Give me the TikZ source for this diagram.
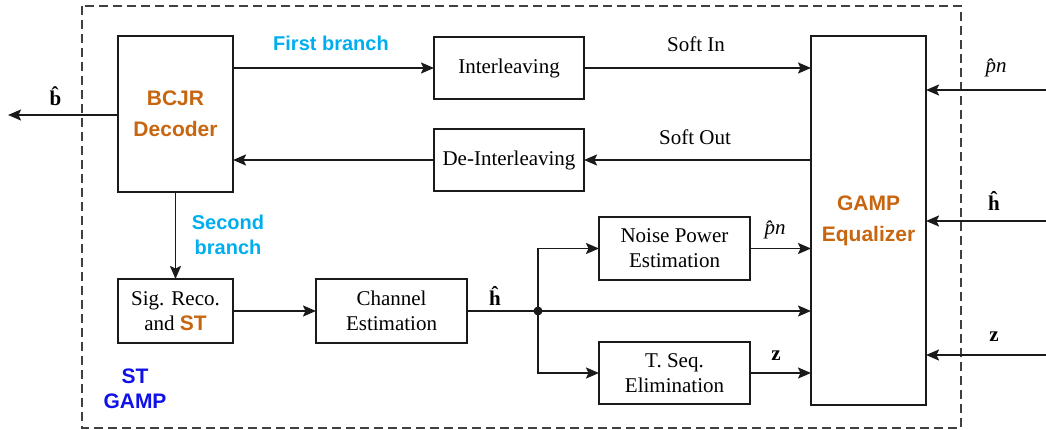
\documentclass[tikz,border=0pt]{standalone}
\usepackage{fontspec}
\setmainfont{Liberation Serif}
\setsansfont{Liberation Sans}
\usetikzlibrary{arrows.meta,calc}
\definecolor{decor}{HTML}{C8650F}
\definecolor{branchcol}{HTML}{00AEEF}
\definecolor{stcol}{HTML}{1010E8}
\definecolor{edge}{HTML}{1A1A1A}
\begin{document}
\begin{tikzpicture}[x=1pt,y=-1pt,
  every node/.style={inner sep=0pt,outer sep=0pt},
  blockbox/.style={draw=edge,line width=1.8pt,fill=white,align=center,
    font=\fontsize{21}{25}\selectfont},
  titlebox/.style={blockbox,font=\fontsize{21}{31}\selectfont\sffamily\bfseries,text=decor},
  arr/.style={draw=edge,line width=1.8pt,-{Stealth[length=13pt,width=11pt,inset=2.5pt]}},
  wire/.style={draw=edge,line width=1.8pt},
  lbl/.style={font=\fontsize{21}{25}\selectfont,align=center},
  branchlbl/.style={font=\fontsize{20}{25}\selectfont\sffamily\bfseries,text=branchcol,align=center},
]
\useasboundingbox (0,0) rectangle (1046,430);

% outer dashed frame of the ST-GAMP receiver
\draw[draw=black!75,line width=1.8pt,dash pattern=on 9pt off 5pt] (82,6) rectangle (961,428);

% blocks
\node[titlebox,minimum width=115pt,minimum height=156pt] (bcjr) at (175.5,114) {BCJR\\Decoder};
\node[blockbox,minimum width=150pt,minimum height=62pt] (inter) at (509,68) {Interleaving};
\node[blockbox,minimum width=150pt,minimum height=62pt] (deinter) at (509,160) {De-Interleaving};
\node[titlebox,minimum width=115pt,minimum height=369pt] (gamp) at (868.5,220.5) {GAMP\\Equalizer};
\node[blockbox,minimum width=115pt,minimum height=64pt] (sig) at (175.5,311)
  {Sig. Reco.\\and {\sffamily\bfseries\color{decor}ST}};
\node[blockbox,minimum width=151pt,minimum height=64pt] (chan) at (391.5,311) {Channel\\Estimation};
\node[blockbox,minimum width=151pt,minimum height=63pt] (noise) at (674.5,248.5) {Noise Power\\Estimation};
\node[blockbox,minimum width=151pt,minimum height=62pt] (tseq) at (674.5,373) {T. Seq.\\Elimination};

% junction and free ends
\coordinate (dot) at (538,311);
\fill[edge] (dot) circle (4.5pt);
\coordinate (bout) at (8,115);
\coordinate (pin) at (1046,90);
\coordinate (hin) at (1046,221);
\coordinate (zin) at (1046,355);

% first branch loop
\draw[arr] (inter.west -| bcjr.east) -- (inter.west);
\draw[arr] (inter.east) -- (inter.east -| gamp.west);
\draw[arr] (deinter.east -| gamp.west) -- (deinter.east);
\draw[arr] (deinter.west) -- (deinter.west -| bcjr.east);
\draw[arr] (bcjr.west |- bout) -- (bout);

% second branch
\draw[arr] (bcjr.south) -- (sig.north);
\draw[arr] (sig.east) -- (chan.west);
\draw[wire] (chan.east) -- (dot);
\draw[arr] (dot) -- (dot -| gamp.west);
\draw[arr] (dot) |- (noise.west);
\draw[arr] (dot) |- (tseq.west);
\draw[arr] (noise.east) -- (noise.east -| gamp.west);
\draw[arr] (tseq.east) -- (tseq.east -| gamp.west);

% external inputs of the equalizer
\draw[arr] (pin) -- (pin -| gamp.east);
\draw[arr] (hin) -- (hin -| gamp.east);
\draw[arr] (zin) -- (zin -| gamp.east);

% labels
\node[lbl] (lb) at (57,96) {\textbf{\^{b}}};
\node[branchlbl] (first) at (331,43) {First branch};
\node[branchlbl] (second) at (228,235) {Second\\branch};
\node[lbl] (softin) at (696,44) {Soft In};
\node[lbl] (softout) at (695,137) {Soft Out};
\node[lbl] (lh) at (495,296) {\textbf{\^{h}}};
\node[lbl] (lpn) at (775,230) {\textit{\^{p}n}};
\node[lbl] (lz) at (776,356) {\textbf{z}};
\node[lbl] (rpn) at (996,68) {\textit{\^{p}n}};
\node[lbl] (rh) at (994,201) {\textbf{\^{h}}};
\node[lbl] (rz) at (994,337) {\textbf{z}};
\node[font=\fontsize{21}{25}\selectfont\sffamily\bfseries,text=stcol,align=center] (stgamp) at (135,389) {ST\\GAMP};
\end{tikzpicture}
\end{document}
